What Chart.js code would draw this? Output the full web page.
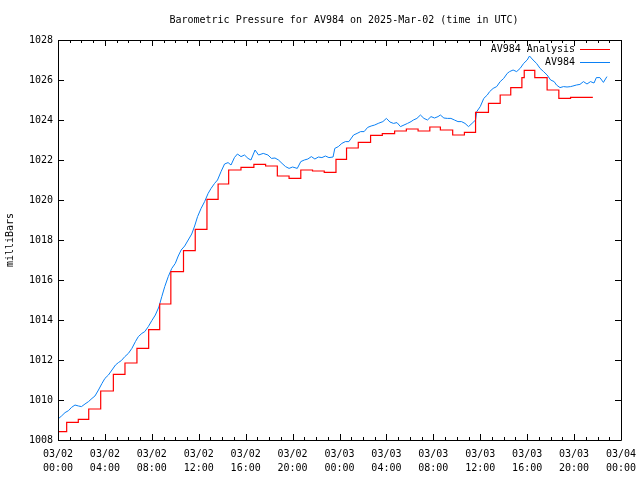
<!DOCTYPE html>
<html>
<head>
<meta charset="utf-8">
<script src="https://cdn.jsdelivr.net/npm/chart.js@4.4.1/dist/chart.umd.min.js"></script>
<style>
  html, body { margin: 0; padding: 0; background: #fff; }
  #wrap { width: 640px; height: 480px; }
</style>
</head>
<body>
<div id="wrap"><canvas id="pressureChart" width="640" height="480"></canvas></div>
<script>
// hours since 2025-03-02 00:00 UTC
const xTicks = [0, 4, 8, 12, 16, 20, 24, 28, 32, 36, 40, 44, 48];
const yTicks = [1008, 1010, 1012, 1014, 1016, 1018, 1020, 1022, 1024, 1026, 1028];

// hourly analysis (step line)
const analysisHours = [0, 0.74, 1.73, 2.62, 3.64, 4.72, 5.71, 6.73, 7.73, 8.67, 9.62, 10.7, 11.7, 12.7, 13.65,
  14.55, 15.6, 16.7, 17.7, 18.7, 19.7, 20.7, 21.7, 22.7, 23.7, 24.6, 25.6, 26.65, 27.65, 28.7, 29.7, 30.7,
  31.7, 32.6, 33.65, 34.65, 35.6, 36.7, 37.7, 38.6, 39.55, 39.75, 40.65, 41.7, 42.7, 43.7, 45.6];
const analysisMbar = [1008.42, 1008.88, 1009.03, 1009.55, 1010.45, 1011.28, 1011.85, 1012.58, 1013.52, 1014.8,
  1016.42, 1017.47, 1018.53, 1020.03, 1020.8, 1021.5, 1021.63, 1021.78, 1021.7, 1021.2, 1021.08, 1021.5,
  1021.45, 1021.38, 1022.03, 1022.6, 1022.88, 1023.23, 1023.32, 1023.45, 1023.55, 1023.45, 1023.65, 1023.5,
  1023.25, 1023.38, 1024.38, 1024.83, 1025.25, 1025.62, 1026.12, 1026.48, 1026.12, 1025.5, 1025.08, 1025.13,
  1025.13];

// station observations
const stationHours = [0, 0.3, 0.6, 0.9, 1.15, 1.45, 1.75, 2.0, 2.3, 2.6, 2.9, 3.15, 3.45, 3.75, 4.0, 4.3, 4.6,
  4.9, 5.15, 5.4, 5.7, 6.0, 6.3, 6.6, 6.85, 7.15, 7.4, 7.7, 8.0, 8.3, 8.6, 8.85, 9.1, 9.4, 9.7, 10.0, 10.25,
  10.5, 10.8, 11.1, 11.4, 11.65, 11.9, 12.2, 12.5, 12.8, 13.05, 13.35, 13.6, 13.9, 14.2, 14.5, 14.75, 15.05,
  15.3, 15.6, 15.9, 16.2, 16.45, 16.8, 17.1, 17.5, 17.9, 18.2, 18.5, 18.8, 19.1, 19.4, 19.7, 20.0, 20.4, 20.7,
  21.0, 21.3, 21.6, 21.9, 22.2, 22.5, 22.8, 23.1, 23.45, 23.6, 23.9, 24.2, 24.5, 24.8, 25.2, 25.5, 25.8, 26.1,
  26.4, 26.7, 27.0, 27.3, 27.7, 28.0, 28.3, 28.6, 28.9, 29.2, 29.5, 29.8, 30.1, 30.3, 30.6, 30.9, 31.2, 31.5,
  31.8, 32.1, 32.4, 32.6, 32.9, 33.2, 33.5, 33.8, 34.1, 34.4, 34.7, 35.0, 35.3, 35.6, 35.7, 36.0, 36.3, 36.6,
  36.8, 37.1, 37.4, 37.7, 38.0, 38.3, 38.5, 38.8, 39.1, 39.4, 39.7, 40.0, 40.2, 40.5, 40.8, 41.1, 41.4, 41.7,
  42.0, 42.3, 42.5, 42.8, 43.1, 43.4, 43.7, 43.9, 44.2, 44.5, 44.8, 45.1, 45.4, 45.7, 45.9, 46.2, 46.5, 46.8];
const stationMbar = [1009.05, 1009.2, 1009.37, 1009.47, 1009.63, 1009.75, 1009.7, 1009.67, 1009.8, 1009.92,
  1010.08, 1010.2, 1010.5, 1010.83, 1011.08, 1011.25, 1011.5, 1011.75, 1011.87, 1011.97, 1012.17, 1012.33,
  1012.58, 1012.92, 1013.17, 1013.33, 1013.42, 1013.67, 1013.97, 1014.25, 1014.65, 1015.17, 1015.67, 1016.17,
  1016.58, 1016.83, 1017.2, 1017.5, 1017.7, 1018.0, 1018.3, 1018.7, 1019.17, 1019.58, 1019.92, 1020.33,
  1020.58, 1020.83, 1021.0, 1021.42, 1021.8, 1021.87, 1021.75, 1022.13, 1022.3, 1022.17, 1022.25, 1022.08,
  1022.0, 1022.5, 1022.25, 1022.33, 1022.25, 1022.08, 1022.1, 1022.0, 1021.83, 1021.67, 1021.58, 1021.65,
  1021.58, 1021.92, 1022.0, 1022.05, 1022.17, 1022.05, 1022.15, 1022.12, 1022.2, 1022.12, 1022.15, 1022.58,
  1022.67, 1022.83, 1022.92, 1022.92, 1023.25, 1023.33, 1023.42, 1023.42, 1023.63, 1023.7, 1023.75, 1023.83,
  1023.92, 1024.08, 1023.9, 1023.83, 1023.87, 1023.67, 1023.75, 1023.83, 1023.92, 1024.0, 1024.08, 1024.25,
  1024.08, 1024.0, 1024.17, 1024.1, 1024.17, 1024.25, 1024.1, 1024.08, 1024.08, 1024.0, 1023.92, 1023.92,
  1023.83, 1023.67, 1023.83, 1024.0, 1024.42, 1024.67, 1025.08, 1025.25, 1025.42, 1025.58, 1025.67, 1025.92,
  1026.08, 1026.33, 1026.42, 1026.5, 1026.42, 1026.58, 1026.83, 1027.0, 1027.2, 1027.0, 1026.83, 1026.58,
  1026.42, 1026.25, 1026.0, 1025.92, 1025.75, 1025.62, 1025.67, 1025.65, 1025.67, 1025.7, 1025.75, 1025.78,
  1025.92, 1025.8, 1025.92, 1025.85, 1026.12, 1026.12, 1025.88, 1026.17];

const seriesNames = ['AV984 Analysis', 'AV984'];
const seriesColors = ['#ff0000', '#0a80f5'];
const FONT = '"DejaVu Sans Mono", "Liberation Mono", monospace';

function toPoints(xs, ys) {
    return xs.map((x, i) => ({ x: x, y: ys[i] }));
}

function pad2(n) {
    return (n < 10 ? '0' : '') + n;
}

// border, inward ticks, title and legend in gnuplot style
const framePlugin = {
    id: 'frame',
    afterDraw(chart) {
        const ctx = chart.ctx;
        const a = chart.chartArea;
        const xs = chart.scales.x;
        const ys = chart.scales.y;
        ctx.save();
        ctx.strokeStyle = '#000';
        ctx.lineWidth = 1;
        ctx.beginPath();
        ctx.rect(Math.round(a.left) + 0.5, Math.round(a.top) + 0.5,
            Math.round(a.right - a.left), Math.round(a.bottom - a.top));
        // x ticks (major every 4 h, minor every hour), bottom and top
        for (let h = 0; h <= 48; h++) {
            const px = Math.round(xs.getPixelForValue(h)) + 0.5;
            const len = (h % 4 === 0) ? 6 : 3;
            ctx.moveTo(px, a.bottom);
            ctx.lineTo(px, a.bottom - len);
            ctx.moveTo(px, a.top);
            ctx.lineTo(px, a.top + len);
        }
        // y ticks, left and right
        yTicks.forEach(v => {
            const py = Math.round(ys.getPixelForValue(v)) + 0.5;
            ctx.moveTo(a.left, py);
            ctx.lineTo(a.left + 6, py);
            ctx.moveTo(a.right, py);
            ctx.lineTo(a.right - 6, py);
        });
        ctx.stroke();

        // title
        ctx.fillStyle = '#000';
        ctx.font = '10px ' + FONT;
        ctx.textAlign = 'center';
        ctx.textBaseline = 'middle';
        ctx.fillText('Barometric Pressure for AV984 on 2025-Mar-02 (time in UTC)', 344, 20);

        // legend
        ctx.textAlign = 'right';
        seriesNames.forEach((name, i) => {
            const y = 49 + i * 13;
            ctx.fillText(name, 575, y);
            ctx.strokeStyle = seriesColors[i];
            ctx.beginPath();
            ctx.moveTo(580, y + 0.5);
            ctx.lineTo(610, y + 0.5);
            ctx.stroke();
        });
        ctx.restore();
    }
};

const ctx = document.getElementById('pressureChart').getContext('2d');
new Chart(ctx, {
    type: 'line',
    data: {
        datasets: [{
            label: seriesNames[0],
            data: toPoints(analysisHours, analysisMbar),
            borderColor: seriesColors[0],
            borderWidth: 1.2,
            stepped: 'before',
            pointRadius: 0,
            fill: false
        }, {
            label: seriesNames[1],
            data: toPoints(stationHours, stationMbar),
            borderColor: seriesColors[1],
            borderWidth: 1,
            pointRadius: 0,
            tension: 0,
            fill: false
        }]
    },
    options: {
        responsive: false,
        animation: false,
        layout: { padding: { top: 40, right: 19, left: 0, bottom: 0 } },
        plugins: {
            legend: { display: false },
            title: { display: false },
            tooltip: { enabled: false }
        },
        scales: {
            x: {
                type: 'linear',
                min: 0,
                max: 48,
                afterFit: s => { s.height = 40; s.paddingLeft = 0; s.paddingRight = 0; },
                afterBuildTicks: s => { s.ticks = xTicks.map(v => ({ value: v })); },
                grid: { display: false, drawTicks: false },
                border: { display: false },
                ticks: {
                    padding: 7,
                    maxRotation: 0,
                    autoSkip: false,
                    color: '#000',
                    font: { family: FONT, size: 10, lineHeight: 1.4 },
                    callback: v => {
                        const day = 2 + Math.floor(v / 24);
                        return ['03/' + pad2(day), pad2(v % 24) + ':00'];
                    }
                }
            },
            y: {
                min: 1008,
                max: 1028,
                afterFit: s => { s.width = 58; s.paddingTop = 0; s.paddingBottom = 0; },
                afterBuildTicks: s => { s.ticks = yTicks.map(v => ({ value: v })); },
                grid: { display: false, drawTicks: false },
                border: { display: false },
                title: {
                    display: true,
                    text: 'milliBars',
                    color: '#000',
                    font: { family: FONT, size: 10 },
                    padding: { top: 4, bottom: 4 }
                },
                ticks: {
                    padding: 5,
                    color: '#000',
                    font: { family: FONT, size: 10 },
                    callback: v => String(v)
                }
            }
        }
    },
    plugins: [framePlugin]
});
</script>
</body>
</html>
